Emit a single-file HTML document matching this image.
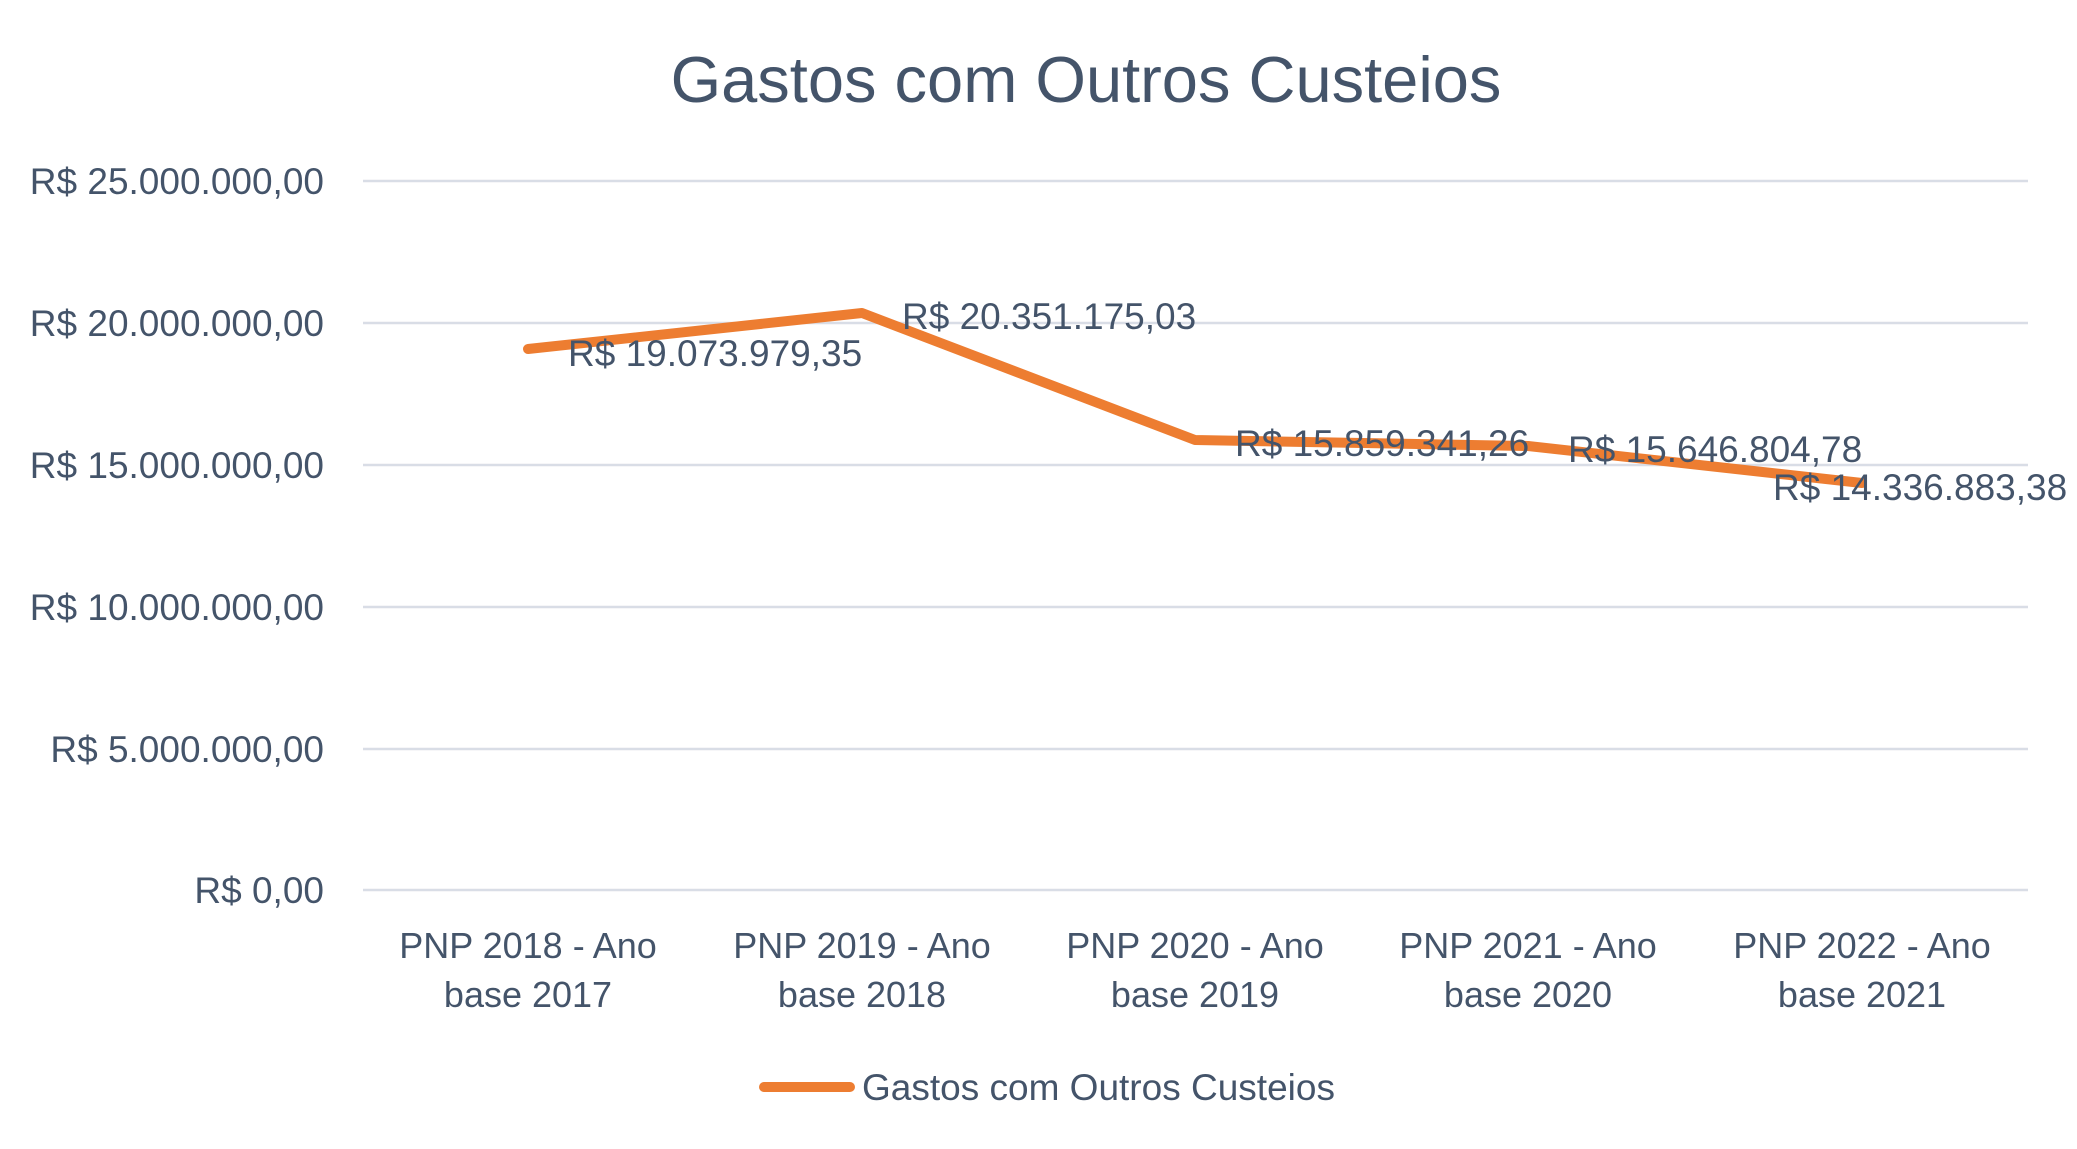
<!DOCTYPE html>
<html><head><style>body{margin:0;background:#fff}svg{display:block}</style></head><body>
<svg width="2077" height="1149" xmlns="http://www.w3.org/2000/svg" font-family="Liberation Sans, sans-serif" fill="#44546a">
<text x="1086" y="102" font-size="65" text-anchor="middle">Gastos com Outros Custeios</text>
<g stroke="#d9dde6" stroke-width="2.5">
<line x1="363" y1="181" x2="2028" y2="181"/><line x1="363" y1="323" x2="2028" y2="323"/>
<line x1="363" y1="465" x2="2028" y2="465"/><line x1="363" y1="607" x2="2028" y2="607"/>
<line x1="363" y1="749" x2="2028" y2="749"/><line x1="363" y1="890" x2="2028" y2="890"/>
</g>
<g font-size="37" text-anchor="end">
<text x="324" y="194">R$ 25.000.000,00</text><text x="324" y="336">R$ 20.000.000,00</text>
<text x="324" y="478">R$ 15.000.000,00</text><text x="324" y="620">R$ 10.000.000,00</text>
<text x="324" y="762">R$ 5.000.000,00</text><text x="324" y="903">R$ 0,00</text>
</g>
<g font-size="36" text-anchor="middle">
<text x="528" y="958">PNP 2018 - Ano</text><text x="528" y="1007">base 2017</text>
<text x="862" y="958">PNP 2019 - Ano</text><text x="862" y="1007">base 2018</text>
<text x="1195" y="958">PNP 2020 - Ano</text><text x="1195" y="1007">base 2019</text>
<text x="1528" y="958">PNP 2021 - Ano</text><text x="1528" y="1007">base 2020</text>
<text x="1862" y="958">PNP 2022 - Ano</text><text x="1862" y="1007">base 2021</text>
</g>
<polyline points="528,349 862,313 1195,440 1528,446 1862,483" fill="none" stroke="#ed7d31" stroke-width="10" stroke-linecap="round" stroke-linejoin="round"/>
<g font-size="37">
<text x="568" y="366">R$ 19.073.979,35</text><text x="902" y="329">R$ 20.351.175,03</text>
<text x="1235" y="456">R$ 15.859.341,26</text><text x="1568" y="462">R$ 15.646.804,78</text>
<text x="1773" y="500">R$ 14.336.883,38</text>
</g>
<line x1="764" y1="1087" x2="850" y2="1087" stroke="#ed7d31" stroke-width="10" stroke-linecap="round"/>
<text x="862" y="1100" font-size="37">Gastos com Outros Custeios</text>
</svg>
</body></html>
